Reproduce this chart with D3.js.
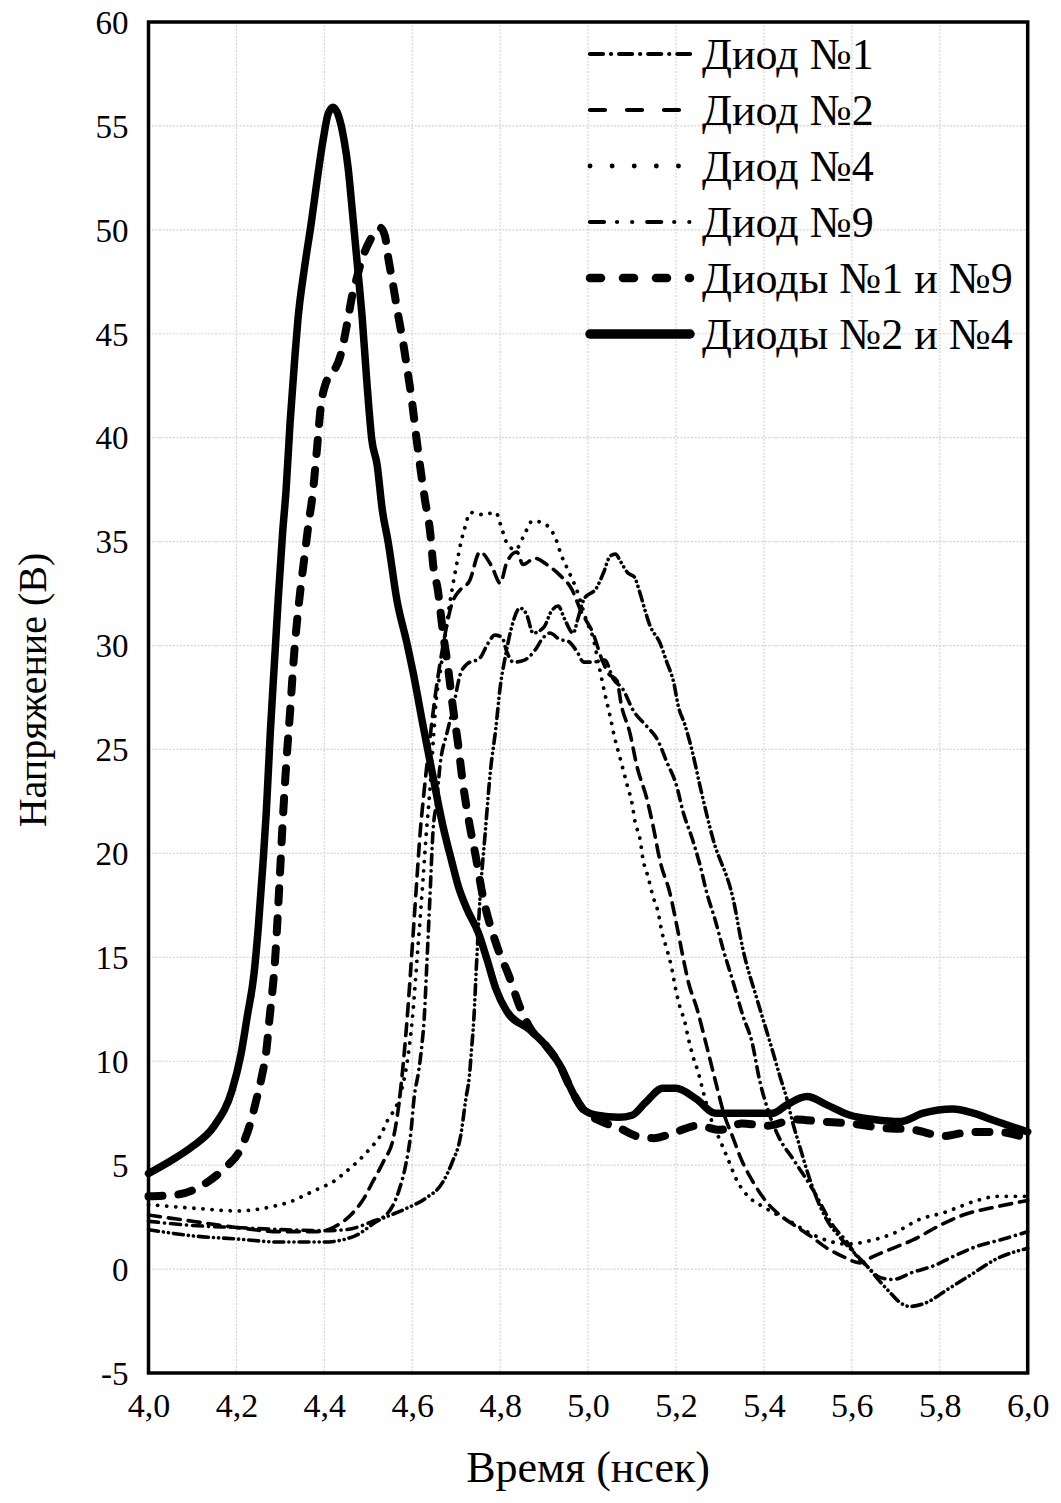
<!DOCTYPE html>
<html>
<head>
<meta charset="utf-8">
<script src="https://cdn.jsdelivr.net/npm/d3@7"></script>
<style>
  html, body { margin: 0; padding: 0; background: #fff; }
  text { font-family: "Liberation Serif", "Times New Roman", serif; fill: #000; }
</style>
</head>
<body>
<svg id="chart" width="1061" height="1503"></svg>
<script>
// ---- data (time in ns, voltage in V) ----
const xTicks = [4.0, 4.2, 4.4, 4.6, 4.8, 5.0, 5.2, 5.4, 5.6, 5.8, 6.0];
const yTicks = [-5, 0, 5, 10, 15, 20, 25, 30, 35, 40, 45, 50, 55, 60];
const seriesNames = ["Диод №1", "Диод №2", "Диод №4", "Диод №9", "Диоды №1 и №9", "Диоды №2 и №4"];

const diode1 = [[4.00,2.3],[4.1,2.1],[4.2,2.0],[4.3,1.9],[4.4,1.85],[4.45,1.9],[4.51,2.3],[4.54,2.6],[4.57,3.8],[4.585,5.0],[4.597,6.6],[4.604,8.2],[4.615,9.6],[4.622,10.8],[4.627,12],[4.633,14.6],[4.64,17.8],[4.647,21],[4.656,22.6],[4.663,24.2],[4.679,25.8],[4.693,27],[4.709,28.6],[4.724,29.1],[4.754,29.4],[4.772,30.1],[4.788,30.5],[4.804,30.4],[4.815,29.7],[4.83,29.2],[4.855,29.3],[4.88,29.8],[4.895,30.3],[4.913,30.6],[4.935,30.3],[4.955,30.2],[4.975,29.7],[4.99,29.2],[5.01,29.2],[5.038,29.3],[5.057,28.4],[5.079,27.9],[5.102,26.9],[5.134,26.1],[5.157,25.5],[5.179,24.4],[5.202,23.2],[5.216,22],[5.237,20.7],[5.255,19.4],[5.27,18.1],[5.289,16.8],[5.307,15.4],[5.33,13.8],[5.352,12.2],[5.373,10.9],[5.391,9.0],[5.41,7.6],[5.435,6.3],[5.466,5.3],[5.512,3.8],[5.557,2.1],[5.589,1.3],[5.612,0.6],[5.634,0.15],[5.664,-0.4],[5.693,-0.5],[5.739,-0.15],[5.785,0.15],[5.83,0.6],[5.885,1.1],[5.937,1.4],[6.0,1.8]];

const diode2 = [[4.00,2.6],[4.1,2.3],[4.2,2.0],[4.3,1.8],[4.38,1.8],[4.42,2.0],[4.46,2.6],[4.49,3.4],[4.51,4.2],[4.535,5.2],[4.557,6.3],[4.57,8.0],[4.58,10],[4.59,12.5],[4.60,15.5],[4.61,18.6],[4.618,21],[4.627,23],[4.64,25.5],[4.655,28],[4.67,30],[4.69,32],[4.71,32.7],[4.73,33.1],[4.754,34.5],[4.781,33.8],[4.8,33],[4.815,34],[4.838,34.5],[4.852,33.9],[4.879,34.2],[4.906,33.9],[4.935,33.4],[4.963,32.7],[4.985,31.6],[5.011,30.6],[5.032,29.3],[5.045,28.7],[5.066,28.3],[5.075,27.2],[5.095,25.8],[5.111,24.2],[5.134,22.6],[5.148,21.3],[5.164,19.6],[5.186,18.1],[5.202,16.5],[5.216,15],[5.227,13.9],[5.248,12.5],[5.27,10.7],[5.289,9.1],[5.31,7.4],[5.33,6.3],[5.346,5.4],[5.375,4.2],[5.407,3.2],[5.436,2.6],[5.47,2.1],[5.505,1.6],[5.544,1.0],[5.58,0.6],[5.618,0.3],[5.648,0.6],[5.693,1.0],[5.739,1.4],[5.8,2.1],[5.853,2.6],[5.93,3.0],[6.0,3.3]];

const diode4 = [[4.00,3.1],[4.06,3.0],[4.12,2.9],[4.2,2.8],[4.28,3.0],[4.33,3.3],[4.36,3.6],[4.39,3.9],[4.42,4.2],[4.45,4.7],[4.477,5.2],[4.504,5.8],[4.527,6.4],[4.545,7.2],[4.565,7.9],[4.579,8.9],[4.588,9.9],[4.60,12],[4.613,15.5],[4.624,18.6],[4.632,21],[4.64,23],[4.648,25.5],[4.655,27.5],[4.662,28.5],[4.67,29.7],[4.685,32],[4.70,33.8],[4.71,34.9],[4.72,35.7],[4.732,36.4],[4.76,36.3],[4.79,36.4],[4.804,35.6],[4.816,34.9],[4.835,34.6],[4.852,35.2],[4.874,36],[4.905,35.8],[4.925,35.2],[4.94,34.3],[4.955,33.6],[4.972,32.8],[4.998,31.1],[5.011,30.4],[5.025,29.0],[5.038,27.7],[5.05,26.6],[5.06,25.6],[5.07,24.8],[5.08,24],[5.09,23.2],[5.1,22.4],[5.107,21.5],[5.118,20.7],[5.125,19.7],[5.136,18.9],[5.148,17.9],[5.159,17.2],[5.168,16.2],[5.179,15.4],[5.191,14.4],[5.198,13.6],[5.209,12.6],[5.22,11.9],[5.227,11.2],[5.239,10.2],[5.25,9.5],[5.261,8.6],[5.28,7.2],[5.3,6.2],[5.316,5.4],[5.34,4.2],[5.364,3.5],[5.398,3.0],[5.432,2.6],[5.459,2.3],[5.498,1.8],[5.528,1.5],[5.589,1.2],[5.648,1.4],[5.693,1.7],[5.755,2.4],[5.807,2.7],[5.885,3.3],[5.93,3.5],[6.0,3.5]];

const diode9 = [[4.00,1.9],[4.1,1.6],[4.2,1.45],[4.3,1.3],[4.4,1.3],[4.47,1.6],[4.52,2.3],[4.585,2.9],[4.63,3.4],[4.67,4.2],[4.69,5.1],[4.71,6.4],[4.722,8.2],[4.73,9.3],[4.735,10.6],[4.74,12],[4.746,14.6],[4.754,17.8],[4.766,21],[4.778,24],[4.79,26],[4.80,28],[4.812,29.5],[4.825,30.8],[4.845,31.8],[4.86,31.5],[4.875,30.6],[4.9,30.9],[4.915,31.6],[4.932,31.9],[4.946,31.3],[4.966,30.6],[4.977,31.3],[4.99,32.2],[5.02,32.8],[5.035,33.5],[5.05,34.3],[5.062,34.4],[5.075,34.0],[5.09,33.5],[5.105,33.3],[5.117,32.6],[5.128,31.8],[5.14,31.0],[5.164,30.1],[5.179,29.2],[5.195,28.2],[5.205,27.1],[5.22,26.2],[5.237,24.9],[5.255,23.2],[5.284,20.7],[5.33,17.8],[5.352,15.4],[5.384,13],[5.414,10.9],[5.436,9.3],[5.452,8.2],[5.466,7.0],[5.48,6.0],[5.5,4.6],[5.52,3.4],[5.545,2.3],[5.57,1.6],[5.6,0.9],[5.634,0.15],[5.664,-0.6],[5.69,-1.2],[5.709,-1.6],[5.732,-1.8],[5.771,-1.6],[5.816,-1.0],[5.869,-0.3],[5.93,0.5],[6.0,1.0]];

const diodes19 = [[4.00,3.5],[4.07,3.6],[4.12,4.0],[4.17,4.8],[4.21,5.8],[4.23,6.9],[4.246,8.2],[4.258,9.3],[4.268,10.5],[4.275,12],[4.288,14.9],[4.298,18.6],[4.306,21.8],[4.314,24.5],[4.322,26.8],[4.332,29.8],[4.343,32.2],[4.355,34.3],[4.365,36],[4.373,37.2],[4.383,39.4],[4.392,41.5],[4.403,42.6],[4.418,43.1],[4.436,43.9],[4.452,45.5],[4.463,46.8],[4.474,47.7],[4.486,48.6],[4.504,49.5],[4.527,50.1],[4.538,49.7],[4.545,48.7],[4.556,47.4],[4.567,46],[4.579,44.6],[4.59,43.1],[4.599,41.8],[4.61,39.9],[4.62,38.3],[4.629,37],[4.641,35.4],[4.648,33.8],[4.658,32.7],[4.67,30.6],[4.681,29],[4.692,27.1],[4.704,25.3],[4.715,23.4],[4.731,21.3],[4.744,19.9],[4.76,18.0],[4.79,15.7],[4.82,14.1],[4.845,12.6],[4.868,11.6],[4.906,10.7],[4.936,9.8],[4.958,8.8],[4.988,7.7],[5.03,7.1],[5.07,6.8],[5.11,6.4],[5.15,6.3],[5.20,6.6],[5.25,6.9],[5.3,6.7],[5.35,7.0],[5.41,6.9],[5.47,7.2],[5.53,7.1],[5.6,7.0],[5.665,6.8],[5.74,6.7],[5.81,6.4],[5.87,6.6],[5.93,6.6],[6.00,6.3]];

const diodes24 = [[4.00,4.6],[4.05,5.2],[4.10,5.9],[4.15,6.9],[4.19,8.6],[4.21,10.3],[4.225,12.2],[4.24,14.2],[4.25,16.5],[4.26,19.4],[4.268,22],[4.277,25.8],[4.286,29],[4.295,32.2],[4.305,35.4],[4.313,37.5],[4.322,40.7],[4.333,43.9],[4.34,45.7],[4.355,48.2],[4.37,50.3],[4.383,52.3],[4.397,54.3],[4.409,55.6],[4.42,55.9],[4.432,55.5],[4.445,54.3],[4.454,53],[4.465,50.6],[4.477,47.9],[4.486,45.8],[4.497,42.6],[4.508,39.9],[4.52,38.7],[4.532,36.5],[4.545,35],[4.565,32.2],[4.588,30.1],[4.602,28.7],[4.625,26.1],[4.648,23.6],[4.67,21.3],[4.69,19.6],[4.705,18.4],[4.725,17.3],[4.75,16.2],[4.77,14.9],[4.79,13.5],[4.815,12.4],[4.868,11.5],[4.906,10.7],[4.936,9.8],[4.958,8.8],[4.988,7.7],[5.02,7.4],[5.07,7.3],[5.10,7.4],[5.13,8.0],[5.17,8.7],[5.20,8.7],[5.245,8.2],[5.29,7.5],[5.36,7.5],[5.42,7.5],[5.452,7.9],[5.498,8.3],[5.543,7.9],[5.596,7.4],[5.65,7.2],[5.71,7.1],[5.762,7.5],[5.83,7.7],[5.876,7.5],[5.93,7.1],[6.00,6.6]];

// ---- drawing ----
const svg = d3.select("#chart");
svg.append("rect").attr("width", 1061).attr("height", 1503).attr("fill", "#fff");

const x = d3.scaleLinear().domain([4, 6]).range([148.5, 1027.7]);
const y = d3.scaleLinear().domain([-5, 60]).range([1373, 22]);

// grid
const grid = svg.append("g");
grid.selectAll("line.gx").data(xTicks).join("line")
  .attr("x1", d => x(d)).attr("x2", d => x(d)).attr("y1", y(60)).attr("y2", y(-5))
  .attr("stroke", "#d4d4d4").attr("stroke-width", 1.2).attr("stroke-dasharray", "2,1.5");
grid.selectAll("line.gy").data(yTicks).join("line")
  .attr("y1", d => y(d)).attr("y2", d => y(d)).attr("x1", x(4)).attr("x2", x(6))
  .attr("stroke", "#d4d4d4").attr("stroke-width", 1.2).attr("stroke-dasharray", "2,1.5");

// axes labels via d3 axes (no tick lines)
const fmt = d => d.toFixed(1).replace(".", ",");
const xAxis = svg.append("g").attr("transform", `translate(0,${y(-5)})`)
  .call(d3.axisBottom(x).tickValues(xTicks).tickFormat(fmt).tickSize(0).tickPadding(0));
xAxis.select(".domain").remove();
xAxis.selectAll("text").attr("font-family", "Liberation Serif").attr("font-size", 34)
  .attr("dy", null).attr("y", 44);

const yAxis = svg.append("g").attr("transform", `translate(${x(4)},0)`)
  .call(d3.axisLeft(y).tickValues(yTicks).tickFormat(d => String(d)).tickSize(0).tickPadding(0));
yAxis.select(".domain").remove();
yAxis.selectAll("text").attr("font-family", "Liberation Serif").attr("font-size", 33)
  .attr("x", -20).attr("dy", "0.34em");

// series
const line = d3.line().x(d => x(d[0])).y(d => y(d[1])).curve(d3.curveMonotoneX);

const styles = [
  { data: diode1,   w: 3.6, dash: "10,6,0.1,6", lw: 4.2, ldash: "13,8,0.1,8" },
  { data: diode2,   w: 3.6, dash: "12,8", lw: 4.2, ldash: "15,22" },
  { data: diode4,   w: 3.8, dash: "0.1,9", lw: 4.8, ldash: "0.1,22" },
  { data: diode9,   w: 3.6, dash: "10,5,0.1,5,0.1,5", lw: 4.2, ldash: "14,13,0.1,15,0.1,15" },
  { data: diodes19, w: 8, dash: "14,16", lw: 8.5, ldash: "11,22" },
  { data: diodes24, w: 7.5, dash: null, lw: 9.5, ldash: null }
];

const plot = svg.append("g");
styles.forEach(s => {
  plot.append("path").datum(s.data)
    .attr("d", line)
    .attr("fill", "none").attr("stroke", "#000")
    .attr("stroke-width", s.w)
    .attr("stroke-linecap", "round").attr("stroke-linejoin", "round")
    .attr("stroke-dasharray", s.dash);
});

// frame
svg.append("rect").attr("x", x(4)).attr("y", y(60)).attr("width", x(6) - x(4)).attr("height", y(-5) - y(60))
  .attr("fill", "none").attr("stroke", "#000").attr("stroke-width", 3.5);

// legend
const legY = d3.scaleLinear().domain([0, 5]).range([54, 334]);
const leg = svg.append("g");
styles.forEach((s, i) => {
  const yy = legY(i);
  leg.append("line").attr("x1", 590).attr("x2", 690).attr("y1", yy).attr("y2", yy)
    .attr("stroke", "#000").attr("stroke-width", s.lw).attr("stroke-linecap", "round")
    .attr("stroke-dasharray", s.ldash);
  leg.append("text").attr("x", 702).attr("y", yy).attr("dy", "0.34em")
    .attr("font-size", 44).text(seriesNames[i]);
});

// axis titles
svg.append("text").attr("x", (x(4) + x(6)) / 2).attr("y", 1482)
  .attr("text-anchor", "middle").attr("font-size", 44).text("Время (нсек)");
svg.append("text").attr("transform", `translate(46,${690}) rotate(-90)`)
  .attr("text-anchor", "middle").attr("font-size", 40).text("Напряжение (В)");
</script>
</body>
</html>
